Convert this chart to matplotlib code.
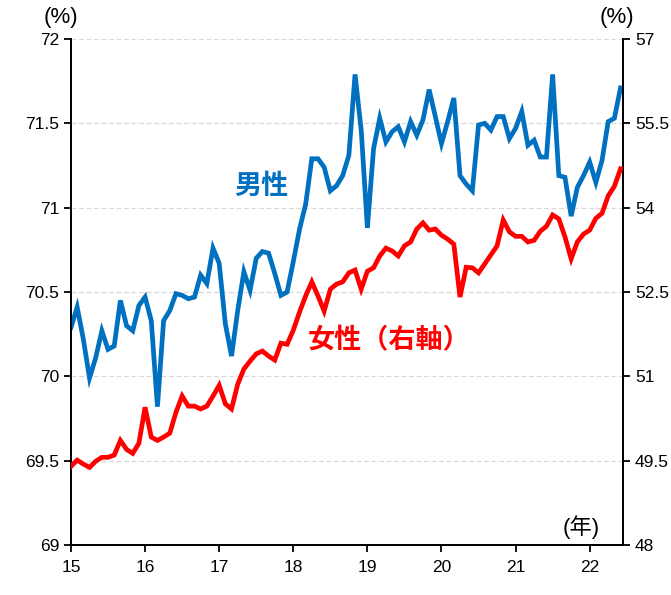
import matplotlib
matplotlib.use("Agg")
from matplotlib import pyplot as plt
import numpy as np

# monthly data, Jan 2015 .. Jun 2022
start_year = 15
male = [70.29, 70.41, 70.22, 69.99, 70.11, 70.27, 70.16, 70.18, 70.45, 70.30, 70.27, 70.42,
        70.47, 70.33, 69.82, 70.33, 70.39, 70.49, 70.48, 70.46, 70.47, 70.60, 70.55, 70.76,
        70.67, 70.31, 70.12, 70.39, 70.62, 70.51, 70.70, 70.74, 70.73, 70.61, 70.48, 70.50,
        70.68, 70.87, 71.02, 71.29, 71.29, 71.24, 71.10, 71.13, 71.19, 71.31, 71.79, 71.46,
        70.88, 71.35, 71.53, 71.39, 71.45, 71.48, 71.39, 71.51, 71.43, 71.52, 71.70, 71.54,
        71.38, 71.51, 71.65, 71.19, 71.14, 71.10, 71.49, 71.50, 71.46, 71.54, 71.54, 71.41,
        71.47, 71.57, 71.37, 71.40, 71.30, 71.30, 71.79, 71.19, 71.18, 70.95, 71.12, 71.19,
        71.27, 71.15, 71.28, 71.51, 71.53, 71.71]
female = [49.40, 49.51, 49.44, 49.38, 49.49, 49.56, 49.56, 49.60, 49.86, 49.70, 49.63, 49.81,
          50.45, 49.92, 49.86, 49.92, 49.99, 50.36, 50.65, 50.47, 50.47, 50.42, 50.47, 50.65,
          50.84, 50.51, 50.42, 50.86, 51.13, 51.27, 51.40, 51.45, 51.36, 51.29, 51.59, 51.57,
          51.82, 52.14, 52.43, 52.68, 52.43, 52.16, 52.55, 52.64, 52.68, 52.84, 52.89, 52.55,
          52.87, 52.93, 53.14, 53.28, 53.23, 53.14, 53.32, 53.39, 53.62, 53.73, 53.60, 53.62,
          53.51, 53.44, 53.35, 52.41, 52.94, 52.93, 52.84, 53.00, 53.16, 53.32, 53.78, 53.57,
          53.49, 53.49, 53.39, 53.42, 53.58, 53.67, 53.87, 53.80, 53.48, 53.09, 53.39, 53.53,
          53.60, 53.81, 53.90, 54.21, 54.38, 54.69]
x_ticks = [15, 16, 17, 18, 19, 20, 21, 22]
left_ticks = [69, 69.5, 70, 70.5, 71, 71.5, 72]
right_ticks = [48, 49.5, 51, 52.5, 54, 55.5, 57]

plt.rcParams['font.family'] = ['Liberation Sans', 'Noto Sans CJK JP', 'DejaVu Sans']

x = start_year + np.arange(len(male)) / 12

fig = plt.figure(figsize=(6.71, 5.95), dpi=100)
ax = fig.add_axes([0.1058, 0.084, 0.8227, 0.8505])
ax2 = ax.twinx()

ax.plot(x, male, color='#0070C0', lw=3.4, solid_joinstyle='miter', zorder=3)
ax2.plot(x, female, color='#FF0000', lw=3.4, solid_joinstyle='miter', zorder=3)

ax.set_xlim(15, 22.45)
ax.set_ylim(69, 72)
ax2.set_ylim(48, 57)
ax.set_xticks(x_ticks)
ax.set_yticks(left_ticks)
ax.set_yticklabels(['69', '69.5', '70', '70.5', '71', '71.5', '72'])
ax2.set_yticks(right_ticks)
ax2.set_yticklabels(['48', '49.5', '51', '52.5', '54', '55.5', '57'])

for g in left_ticks[1:]:
    ax.axhline(g, color='#d8d8d8', lw=0.9, ls=(0, (4, 2)), zorder=1)

for a in (ax, ax2):
    a.spines['top'].set_visible(False)
    for s in ('left', 'right', 'bottom'):
        a.spines[s].set_linewidth(1.3)
    a.tick_params(labelsize=12.5, width=1.3, length=5, direction='out')
ax.tick_params(axis='x', pad=6)

ax.text(-0.018, 1.042, '(%)', transform=ax.transAxes, fontsize=16, ha='center', va='center')
ax.text(0.989, 1.042, '(%)', transform=ax.transAxes, fontsize=16, ha='center', va='center')
ax.text(0.925, 0.035, '(年)', transform=ax.transAxes, fontsize=16, ha='center', va='center')

ax.text(17.57, 71.13, '男性', color='#0070C0', fontsize=19.5, fontweight='bold',
        family=['Noto Sans CJK JP'], ha='center', va='center')
ax2.text(19.3, 51.64, '女性（右軸）', color='#FF0000', fontsize=19.5, fontweight='bold',
         family=['Noto Sans CJK JP'], ha='center', va='center')

plt.savefig('out.png', dpi=100)
